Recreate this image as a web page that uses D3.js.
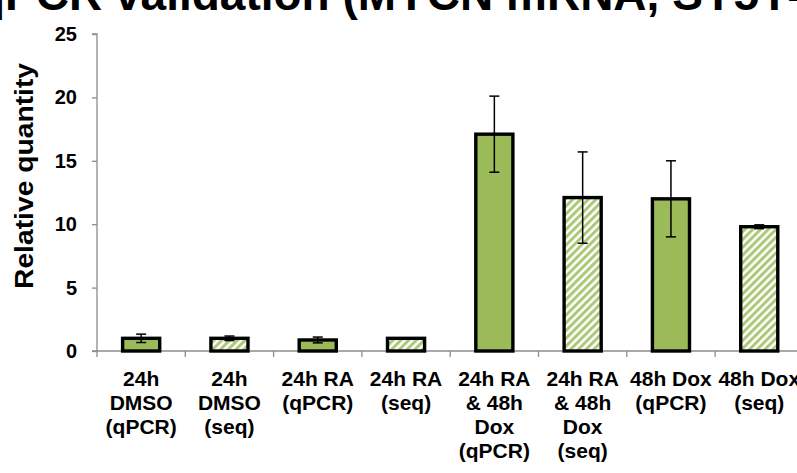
<!DOCTYPE html>
<html>
<head>
<meta charset="utf-8">
<script src="https://cdn.jsdelivr.net/npm/d3@7"></script>
<style>
  html, body { margin: 0; padding: 0; background: #fff; }
  svg { display: block; font-family: "Liberation Sans", Arial, sans-serif; }
</style>
</head>
<body>
<svg id="chart" width="797" height="473"></svg>
<script>
// Relative MYCN mRNA quantity per condition, measured by qPCR and by sequencing
const categories = [
  ["24h", "DMSO", "(qPCR)"],
  ["24h", "DMSO", "(seq)"],
  ["24h RA", "(qPCR)"],
  ["24h RA", "(seq)"],
  ["24h RA", "& 48h", "Dox", "(qPCR)"],
  ["24h RA", "& 48h", "Dox", "(seq)"],
  ["48h Dox", "(qPCR)"],
  ["48h Dox", "(seq)"]
];
const method = ["qPCR", "seq", "qPCR", "seq", "qPCR", "seq", "qPCR", "seq"];
const values = [1.0, 1.0, 0.87, 1.0, 17.1, 12.1, 12.0, 9.8];
const errors = [0.33, 0.18, 0.23, 0.03, 3.0, 3.6, 3.0, 0.15];
const yTicks = [0, 5, 10, 15, 20, 25];
const titleText = "qPCR validation (MYCN mRNA, SY5Y-MYCN)";
const yLabel = "Relative quantity";

const svg = d3.select("#chart");
const ids = categories.map((c, i) => i);

const x = d3.scaleBand().domain(ids).range([97, 803.4]).paddingInner(0.58).paddingOuter(0.29);
const xBounds = d3.scaleLinear().domain([0, categories.length]).range([97, 803.4]);
const y = d3.scaleLinear().domain([0, 25]).range([351, 34]);

// diagonal hatch used for the sequencing bars
const defs = svg.append("defs");
const pat = defs.append("pattern")
  .attr("id", "hatch")
  .attr("patternUnits", "userSpaceOnUse")
  .attr("width", 5.5).attr("height", 5.5)
  .attr("patternTransform", "rotate(45)");
pat.append("rect").attr("width", 5.5).attr("height", 5.5).attr("fill", "#ffffff");
pat.append("rect").attr("width", 3).attr("height", 5.5).attr("fill", "#acc878");

// title (runs off the top edge)
svg.append("text")
  .attr("x", -23).attr("y", 10)
  .attr("font-size", 46).attr("font-weight", "bold")
  .attr("fill", "#000")
  .text(titleText);

// y axis
const yAxis = d3.axisLeft(y).tickValues(yTicks).tickSize(5).tickPadding(15).tickFormat(d3.format("d"));
const gy = svg.append("g").attr("transform", "translate(97,0)").call(yAxis);
gy.select(".domain").attr("stroke", "#8c8c8c").attr("stroke-width", 1.3).attr("d", "M-5,34H0V351");
gy.selectAll(".tick line").attr("stroke", "#8c8c8c").attr("stroke-width", 1.3);
gy.selectAll(".tick text")
  .attr("font-size", 20).attr("font-weight", "bold").attr("fill", "#000")
  .attr("font-family", "Liberation Sans, Arial, sans-serif");

// x axis baseline with boundary ticks
const gx = svg.append("g");
gx.append("line")
  .attr("x1", 92).attr("x2", 797)
  .attr("y1", y(0)).attr("y2", y(0))
  .attr("stroke", "#8c8c8c").attr("stroke-width", 1.3);
gx.selectAll("line.tk")
  .data(d3.range(0, categories.length + 1))
  .join("line").attr("class", "tk")
  .attr("x1", d => xBounds(d)).attr("x2", d => xBounds(d))
  .attr("y1", y(0)).attr("y2", y(0) + 6)
  .attr("stroke", "#8c8c8c").attr("stroke-width", 1.3);

// y label
svg.append("text")
  .attr("transform", "translate(33,176) rotate(-90)")
  .attr("text-anchor", "middle")
  .attr("font-size", 26).attr("font-weight", "bold")
  .attr("textLength", 226).attr("lengthAdjust", "spacingAndGlyphs")
  .attr("fill", "#000")
  .text(yLabel);

// bars
svg.append("g").selectAll("rect")
  .data(ids)
  .join("rect")
  .attr("x", i => x(i))
  .attr("y", i => y(values[i]))
  .attr("width", x.bandwidth())
  .attr("height", i => y(0) - y(values[i]))
  .attr("fill", i => method[i] === "seq" ? "url(#hatch)" : "#9bbb59")
  .attr("stroke", "#000").attr("stroke-width", 3.4);

// error bars
const eb = svg.append("g").attr("stroke", "#000").attr("stroke-width", 1.5);
ids.forEach(i => {
  const cx = x(i) + x.bandwidth() / 2;
  const top = y(values[i] + errors[i]);
  const bot = y(values[i] - errors[i]);
  eb.append("line").attr("x1", cx).attr("x2", cx).attr("y1", top).attr("y2", bot);
  eb.append("line").attr("x1", cx - 5).attr("x2", cx + 5).attr("y1", top).attr("y2", top);
  eb.append("line").attr("x1", cx - 5).attr("x2", cx + 5).attr("y1", bot).attr("y2", bot);
});

// category labels
const lab = svg.append("g")
  .attr("font-size", 21).attr("font-weight", "bold")
  .attr("text-anchor", "middle").attr("fill", "#000");
ids.forEach(i => {
  const t = lab.append("text")
    .attr("x", x(i) + x.bandwidth() / 2)
    .attr("y", 386);
  categories[i].forEach((line, k) => {
    t.append("tspan")
      .attr("x", x(i) + x.bandwidth() / 2)
      .attr("dy", k === 0 ? 0 : 24)
      .text(line);
  });
});
</script>
</body>
</html>
